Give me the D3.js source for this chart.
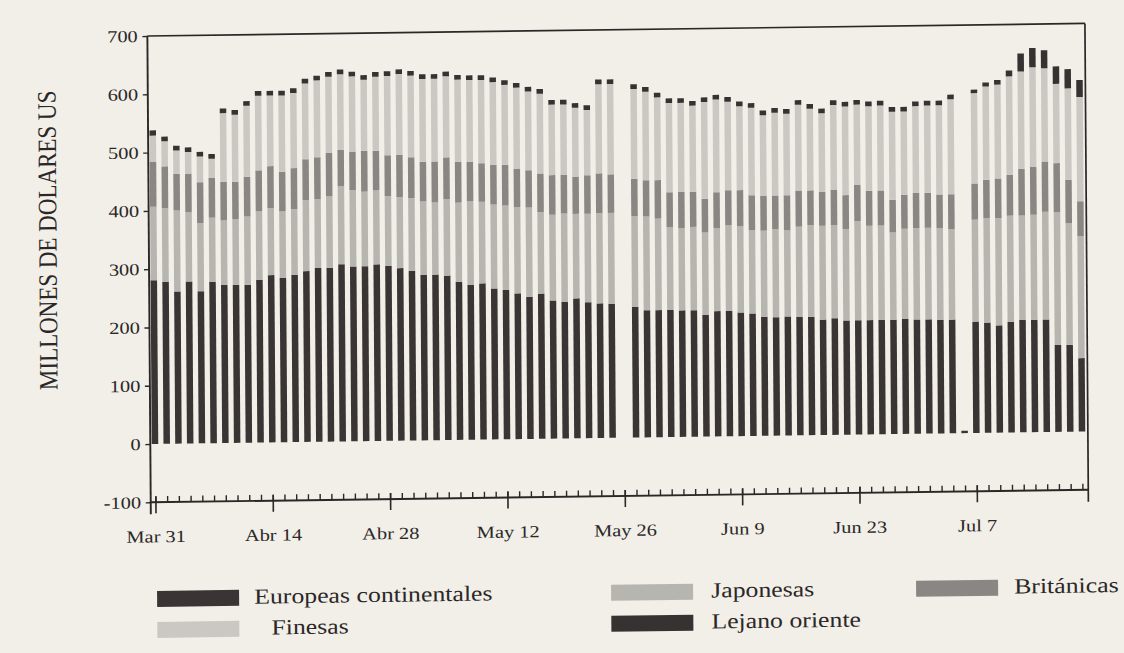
<!DOCTYPE html>
<html>
<head>
<meta charset="utf-8">
<script src="https://cdn.jsdelivr.net/npm/d3@7"></script>
<style>
  html, body { margin: 0; padding: 0; background: #f1efe8; }
  svg { display: block; }
  text { font-family: "Liberation Serif", "Times New Roman", serif; fill: #2b2727; }
</style>
</head>
<body>
<svg id="chart" width="1124" height="653"></svg>
<script>
// Trading days from Mar 31 (index 0) to Jul 18 (index 79)
const dias = d3.range(80);
const tickLabels = ["Mar 31", "Abr 14", "Abr 28", "May 12", "May 26", "Jun 9", "Jun 23", "Jul 7"];
const yTicks = [-100, 0, 100, 200, 300, 400, 500, 600, 700];

// Daily balances, millions of US dollars, one array per group of institutions
const europeas = [
  281,278,261,278,261,277,271,271,271,279,
  287,282,287,293,298,298,304,300,300,303,
  300,296,291,284,284,282,271,266,268,259,
  256,250,244,249,237,234,240,233,231,230,
  0,224,218,218,218,217,217,209,215,215,
  212,210,204,203,204,203,203,198,200,196,
  196,196,196,196,197,196,196,195,195,4,
  191,189,184,190,193,193,193,149,149,126
];
const japonesas = [
  126,126,139,119,117,110,111,113,117,118,
  115,114,113,122,118,123,134,131,128,127,
  120,122,125,126,124,131,136,143,140,144,
  145,148,153,140,147,152,145,152,155,156,
  0,156,161,157,142,141,143,141,142,147,
  148,143,148,151,148,155,157,161,160,157,
  170,162,162,150,155,157,157,157,155,0,
  175,179,184,182,179,180,185,228,209,209
];
const britanicas = [
  77,72,63,66,70,68,66,64,68,70,
  72,68,70,70,72,74,62,66,70,68,
  70,72,70,68,70,72,70,68,66,68,
  70,66,64,66,68,66,64,66,68,66,
  0,64,62,66,60,62,60,58,62,60,
  62,60,60,58,60,62,60,58,60,58,
  62,60,60,56,58,60,60,58,60,0,
  62,66,68,70,80,82,86,84,74,60
];
const finesas = [
  45,43,40,37,44,33,118,115,122,128,
  121,131,129,130,132,131,130,129,122,127,
  136,139,140,142,142,139,141,140,143,142,
  137,139,135,137,121,121,118,112,153,155,
  0,154,152,142,153,153,148,166,159,152,
  144,150,138,142,140,147,140,135,146,152,
  138,145,146,151,143,149,150,153,163,0,
  155,160,161,169,167,171,160,136,157,179
];
const lejano = [
  9,8,8,8,8,8,8,8,8,8,
  8,8,8,8,8,8,8,8,8,8,
  8,8,8,8,8,8,8,8,8,8,
  8,8,8,8,8,8,8,8,8,8,
  0,8,8,8,8,8,8,8,8,8,
  8,8,8,8,8,8,8,8,8,8,
  8,8,8,8,8,8,8,8,8,0,
  6,7,8,10,31,33,31,30,33,29
];

const keys = ["Europeas continentales", "Japonesas", "Británicas", "Finesas", "Lejano oriente"];
const seriesValues = [europeas, japonesas, britanicas, finesas, lejano];
const colors = ["#3a3434", "#b7b5af", "#8a8683", "#cac8c2", "#373232"];

const rows = dias.map(i => {
  const r = { dia: i };
  keys.forEach((k, j) => { r[k] = seriesValues[j][i]; });
  return r;
});
const stacked = d3.stack().keys(keys)(rows);

const svg = d3.select("#chart");
// the printed sheet is slightly skewed: horizontals rise to the right, verticals lean left at the top
const kx = 0.0072, ky = -0.0134, cx = 151, cy = 444;
const g = svg.append("g")
  .attr("transform", `matrix(1,${ky},${kx},1,${-kx * cy},${-ky * cx})`);

const x = d3.scaleLinear().domain([0, 79]).range([155, 1082]);
const y = d3.scaleLinear().domain([-100, 700]).range([502.3, 36]);
const barW = 6.5;
const xl = x(-0.4), xr = x(79.5);
const stretch = "scale(1.2,1)";
const axisColor = "#2b2727";

// stacked bars
g.append("g").selectAll("g").data(stacked).join("g")
  .attr("fill", (d, i) => colors[i])
  .selectAll("rect").data(d => d).join("rect")
  .attr("x", d => x(d.data.dia) - barW / 2)
  .attr("width", barW)
  .attr("y", d => y(d[1]))
  .attr("height", d => Math.max(0, y(d[0]) - y(d[1])));

// frame: top and right edges
g.append("line").attr("x1", xl).attr("x2", xr).attr("y1", y(700)).attr("y2", y(700))
  .attr("stroke", axisColor).attr("stroke-width", 1.7);
g.append("line").attr("x1", xr).attr("x2", xr).attr("y1", y(700)).attr("y2", y(-100) + 12)
  .attr("stroke", axisColor).attr("stroke-width", 1.7);

// left axis
const yAxis = g.append("g").attr("transform", `translate(${xl},0)`)
  .call(d3.axisLeft(y).tickValues(yTicks).tickSize(5).tickSizeOuter(0).tickPadding(3)
    .tickFormat(d => String(d)));
yAxis.select(".domain").remove();
yAxis.selectAll("line").attr("stroke", axisColor).attr("stroke-width", 1.4);
yAxis.selectAll("text").attr("font-size", 17).attr("transform", stretch).attr("fill", axisColor)
  .style("font-family", '"Liberation Serif", serif');
g.append("line").attr("x1", xl).attr("x2", xl).attr("y1", y(700)).attr("y2", y(-100) + 12)
  .attr("stroke", axisColor).attr("stroke-width", 1.9);

// bottom axis at -100: day ticks upward, labelled ticks downward
const base = y(-100);
g.append("line").attr("x1", xl).attr("x2", xr).attr("y1", base).attr("y2", base)
  .attr("stroke", axisColor).attr("stroke-width", 1.9);
const minor = g.append("g").attr("transform", `translate(0,${base})`)
  .call(d3.axisTop(x).tickValues(dias).tickSize(6).tickFormat(""));
minor.select(".domain").remove();
minor.selectAll("line").attr("stroke", axisColor).attr("stroke-width", 1.4);
const major = g.append("g").attr("transform", `translate(0,${base})`)
  .call(d3.axisBottom(x).tickValues(d3.range(0, 80, 10)).tickSize(11).tickPadding(17)
    .tickFormat(d => tickLabels[d / 10]));
major.select(".domain").remove();
major.selectAll("line").attr("stroke", axisColor).attr("stroke-width", 1.6).attr("y1", -6);
major.selectAll("text").attr("font-size", 17).attr("transform", stretch).attr("fill", axisColor)
  .style("font-family", '"Liberation Serif", serif');

// y axis title
g.append("text")
  .attr("transform", "translate(58,239) scale(1.15,1) rotate(-90)")
  .attr("text-anchor", "middle")
  .attr("font-size", 23)
  .text("MILLONES DE DOLARES US");

// legend
const legendLayout = [
  { key: "Europeas continentales", sx: 156, sy: 591, tx: 253 },
  { key: "Finesas", sx: 156, sy: 622, tx: 270 },
  { key: "Japonesas", sx: 610, sy: 591, tx: 710 },
  { key: "Lejano oriente", sx: 610, sy: 622, tx: 710 },
  { key: "Británicas", sx: 915, sy: 591, tx: 1013 }
];
const leg = g.append("g").selectAll("g").data(legendLayout).join("g");
leg.append("rect")
  .attr("x", d => d.sx).attr("y", d => d.sy)
  .attr("width", 82).attr("height", 16)
  .attr("fill", d => colors[keys.indexOf(d.key)]);
leg.append("text")
  .attr("transform", d => `translate(${d.tx},${d.sy + 14}) scale(1.2,1)`)
  .attr("font-size", 21.5)
  .text(d => d.key);
</script>
</body>
</html>
